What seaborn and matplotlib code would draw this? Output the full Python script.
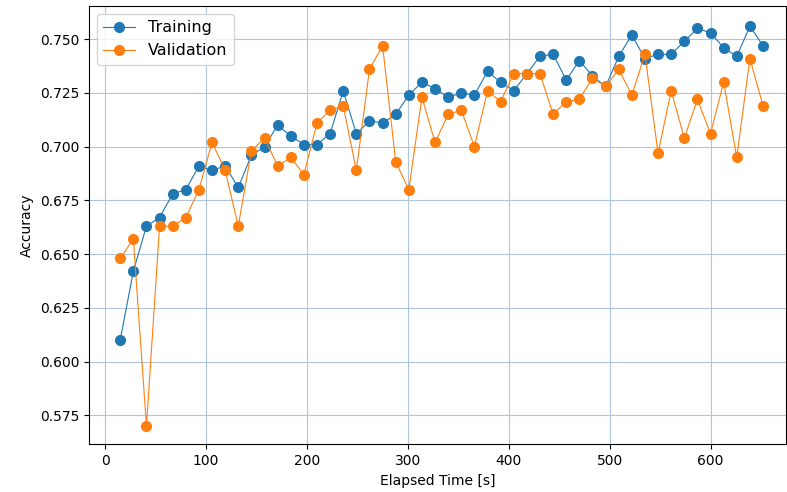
import matplotlib
matplotlib.use("Agg")
import matplotlib.pyplot as plt
import seaborn as sns
import pandas as pd

elapsed = [15, 28, 41, 54, 67, 80, 93, 106, 119, 132, 145, 158, 171, 184, 197,
           210, 223, 236, 249, 262, 275, 288, 301, 314, 327, 340, 353, 366, 379,
           392, 405, 418, 431, 444, 457, 470, 483, 496, 509, 522, 535, 548, 561,
           574, 587, 600, 613, 626, 639, 652]

training = [0.610, 0.642, 0.663, 0.667, 0.678, 0.680, 0.691, 0.689, 0.691, 0.681,
            0.696, 0.700, 0.710, 0.705, 0.701, 0.701, 0.706, 0.726, 0.706, 0.712,
            0.711, 0.715, 0.724, 0.730, 0.727, 0.723, 0.725, 0.724, 0.735, 0.730,
            0.726, 0.734, 0.742, 0.743, 0.731, 0.740, 0.733, 0.728, 0.742, 0.752,
            0.741, 0.743, 0.743, 0.749, 0.755, 0.753, 0.746, 0.742, 0.756, 0.747]

validation = [0.648, 0.657, 0.570, 0.663, 0.663, 0.667, 0.680, 0.702, 0.689, 0.663,
              0.698, 0.704, 0.691, 0.695, 0.687, 0.711, 0.717, 0.719, 0.689, 0.736,
              0.747, 0.693, 0.680, 0.723, 0.702, 0.715, 0.717, 0.700, 0.726, 0.721,
              0.734, 0.734, 0.734, 0.715, 0.721, 0.722, 0.732, 0.728, 0.736, 0.724,
              0.743, 0.697, 0.726, 0.704, 0.722, 0.706, 0.730, 0.695, 0.741, 0.719]

series_names = ["Training", "Validation"]
colors = ["#1f77b4", "#ff7f0e"]

df = pd.DataFrame({
    "Elapsed Time [s]": elapsed * 2,
    "Accuracy": training + validation,
    "Set": [series_names[0]] * len(elapsed) + [series_names[1]] * len(elapsed),
})

fig, ax = plt.subplots(figsize=(7.87, 4.92), dpi=100)
sns.lineplot(data=df, x="Elapsed Time [s]", y="Accuracy", hue="Set",
             palette=colors, marker="o", markersize=8, markeredgewidth=0,
             linewidth=0.8, ax=ax, sort=False)

ax.grid(True, color="#b0c4de", linewidth=0.8)
ax.set_axisbelow(True)
ax.set_xlim(-16, 675)
ax.set_ylim(0.5615, 0.7655)
leg = ax.legend(loc="upper left", fontsize=11.5)
leg.set_title(None)
fig.subplots_adjust(left=0.113, right=0.999, top=0.988, bottom=0.097)
fig.savefig("out.png", dpi=100)
